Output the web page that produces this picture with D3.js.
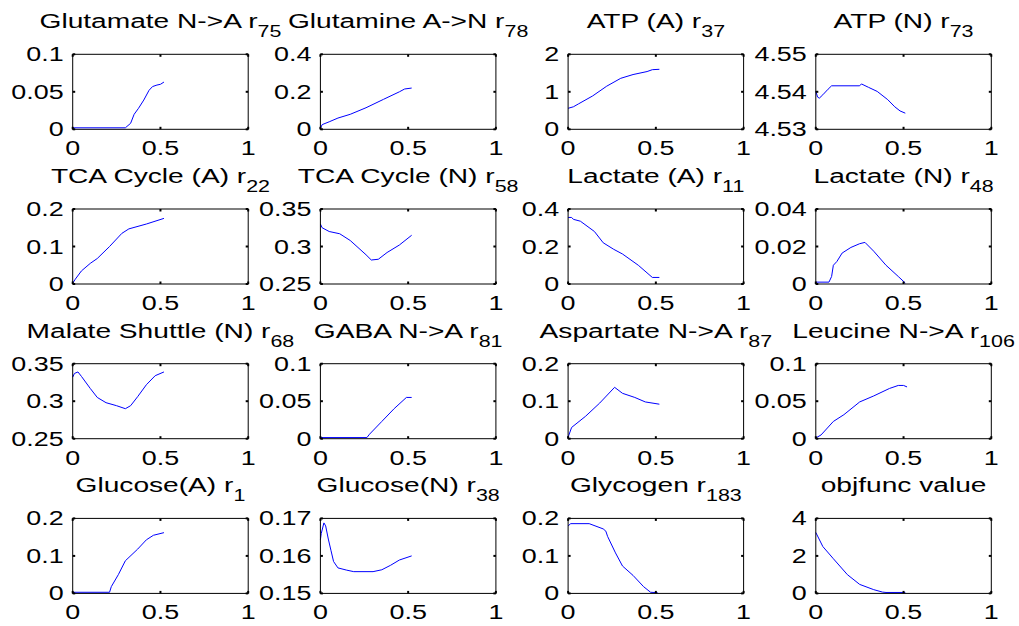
<!DOCTYPE html>
<html>
<head>
<meta charset="utf-8">
<script src="https://cdn.jsdelivr.net/npm/d3@7"></script>
<style>
  body { margin: 0; background: #fff; }
  svg { display: block; }
  text { font-family: "Liberation Sans", Arial, sans-serif; fill: #000; }
</style>
</head>
<body>
<script>
// panel titles (main text + subscript)
var titles = ["Glutamate N->A r", "Glutamine A->N r", "ATP (A) r", "ATP (N) r",
  "TCA Cycle (A) r", "TCA Cycle (N) r", "Lactate (A) r", "Lactate (N) r",
  "Malate Shuttle (N) r", "GABA N->A r", "Aspartate N->A r", "Leucine N->A r",
  "Glucose(A) r", "Glucose(N) r", "Glycogen r", "objfunc value"];
var subs = ["75", "78", "37", "73", "22", "58", "11", "48",
  "68", "81", "87", "106", "1", "38", "183", ""];

var xTicks = [0, 0.5, 1];
var xTickLabels = ["0", "0.5", "1"];

var yDomains = [[0, 0.1], [0, 0.4], [0, 2], [4.53, 4.55],
  [0, 0.2], [0.25, 0.35], [0, 0.4], [0, 0.04],
  [0.25, 0.35], [0, 0.1], [0, 0.2], [0, 0.1],
  [0, 0.2], [0.15, 0.17], [0, 0.2], [0, 4]];
var yTickLabels = [["0", "0.05", "0.1"], ["0", "0.2", "0.4"], ["0", "1", "2"], ["4.53", "4.54", "4.55"],
  ["0", "0.1", "0.2"], ["0.25", "0.3", "0.35"], ["0", "0.2", "0.4"], ["0", "0.02", "0.04"],
  ["0.25", "0.3", "0.35"], ["0", "0.05", "0.1"], ["0", "0.1", "0.2"], ["0", "0.05", "0.1"],
  ["0", "0.1", "0.2"], ["0.15", "0.16", "0.17"], ["0", "0.1", "0.2"], ["0", "2", "4"]];

// curves, [x, y]
var glutamateNA = [[0,0.002],[0.3,0.002],[0.33,0.008],[0.35,0.02],[0.375,0.028],[0.405,0.039],[0.435,0.052],[0.455,0.057],[0.48,0.059],[0.5,0.06],[0.52,0.063]];
var glutamineAN = [[0,0.005],[0.01,0.025],[0.05,0.04],[0.1,0.06],[0.17,0.08],[0.26,0.115],[0.36,0.16],[0.45,0.2],[0.48,0.215],[0.52,0.22]];
var atpA = [[0,0.56],[0.03,0.6],[0.06,0.68],[0.14,0.89],[0.22,1.15],[0.3,1.36],[0.37,1.46],[0.45,1.54],[0.48,1.59],[0.52,1.6]];
var atpN = [[0,4.5402],[0.01,4.5386],[0.02,4.5383],[0.04,4.5392],[0.07,4.5407],[0.09,4.5416],[0.25,4.5416],[0.26,4.5421],[0.3,4.5412],[0.35,4.5401],[0.41,4.5379],[0.45,4.536],[0.48,4.5349],[0.51,4.5343]];
var tcaA = [[0,0.002],[0.015,0.013],[0.05,0.035],[0.1,0.055],[0.14,0.068],[0.21,0.1],[0.28,0.135],[0.32,0.147],[0.42,0.16],[0.52,0.175]];
var tcaN = [[0,0.33],[0.01,0.325],[0.05,0.32],[0.11,0.317],[0.17,0.308],[0.26,0.289],[0.29,0.282],[0.33,0.283],[0.38,0.292],[0.45,0.302],[0.52,0.315]];
var lactateA = [[0,0.355],[0.02,0.355],[0.03,0.345],[0.07,0.335],[0.15,0.28],[0.2,0.22],[0.26,0.185],[0.31,0.16],[0.4,0.1],[0.48,0.035],[0.52,0.035]];
var lactateN = [[0,0.001],[0.075,0.001],[0.09,0.004],[0.1,0.01],[0.12,0.012],[0.15,0.0165],[0.2,0.0195],[0.25,0.0215],[0.28,0.0222],[0.33,0.0175],[0.4,0.01],[0.47,0.004],[0.51,0.0005]];
var malateN = [[0,0.332],[0.01,0.337],[0.03,0.339],[0.05,0.333],[0.1,0.317],[0.14,0.305],[0.19,0.298],[0.25,0.294],[0.3,0.29],[0.33,0.294],[0.37,0.306],[0.42,0.322],[0.47,0.334],[0.52,0.339]];
var gabaNA = [[0,0.0015],[0.265,0.0015],[0.28,0.006],[0.35,0.023],[0.42,0.04],[0.49,0.055],[0.52,0.055]];
var aspartateNA = [[0,0.004],[0.02,0.03],[0.1,0.06],[0.18,0.095],[0.265,0.137],[0.31,0.121],[0.38,0.11],[0.44,0.098],[0.52,0.092]];
var leucineNA = [[0,0.001],[0.03,0.005],[0.1,0.023],[0.16,0.032],[0.25,0.049],[0.33,0.057],[0.42,0.067],[0.47,0.071],[0.5,0.071],[0.52,0.069]];
var glucoseA = [[0,0.003],[0.21,0.003],[0.22,0.018],[0.26,0.05],[0.3,0.087],[0.37,0.118],[0.42,0.143],[0.46,0.155],[0.52,0.162]];
var glucoseN = [[0,0.1643],[0.005,0.166],[0.02,0.1688],[0.03,0.168],[0.045,0.1645],[0.06,0.1615],[0.075,0.1585],[0.1,0.1568],[0.15,0.1562],[0.19,0.1558],[0.3,0.1558],[0.35,0.1563],[0.4,0.1575],[0.45,0.1589],[0.52,0.16]];
var glycogen = [[0,0.18],[0.015,0.186],[0.12,0.186],[0.2,0.172],[0.215,0.166],[0.225,0.152],[0.27,0.108],[0.31,0.073],[0.37,0.048],[0.43,0.018],[0.47,0.003],[0.51,0.002]];
var objfunc = [[0,3.25],[0.04,2.5],[0.1,1.85],[0.18,1.0],[0.25,0.48],[0.33,0.2],[0.38,0.07],[0.4,0.05],[0.51,0.05]];

var series = [glutamateNA, glutamineAN, atpA, atpN, tcaA, tcaN, lactateA, lactateN,
  malateN, gabaNA, aspartateNA, leucineNA, glucoseA, glucoseN, glycogen, objfunc];

var width = 1019, height = 626;
var pw = 175.5, ph = 75;
var sx = 1.38; // the figure is stretched sideways, text too

var svg = d3.select("body").append("svg")
  .attr("width", width)
  .attr("height", height);

svg.append("rect").attr("width", width).attr("height", height).attr("fill", "#fff");

function stretchedText(parent, x, y, s) {
  return parent.append("g")
    .attr("transform", "translate(" + x + "," + y + ") scale(" + (s || sx) + ",1)")
    .append("text");
}

series.forEach(function (pts, i) {
  var col = i % 4, row = Math.floor(i / 4);
  var left = 72.7 + col * 247.7;
  var top = 54.3 + row * 154.7;

  var x = d3.scaleLinear().domain([0, 1]).range([left, left + pw]);
  var y = d3.scaleLinear().domain(yDomains[i]).range([top + ph, top]);
  var yTicks = yTickLabels[i].map(Number);

  var g = svg.append("g");

  // curve
  g.append("path")
    .datum(pts)
    .attr("fill", "none")
    .attr("stroke", "#0000ff")
    .attr("stroke-width", 1)
    .attr("d", d3.line().x(function (d) { return x(d[0]); }).y(function (d) { return y(d[1]); }));

  // box
  g.append("rect")
    .attr("x", left).attr("y", top)
    .attr("width", pw).attr("height", ph)
    .attr("fill", "none")
    .attr("stroke", "#000")
    .attr("stroke-width", 1);

  // inward ticks on all four sides
  var tl = 2.5;
  xTicks.forEach(function (t) {
    g.append("line").attr("x1", x(t)).attr("x2", x(t)).attr("y1", top + ph).attr("y2", top + ph - tl)
      .attr("stroke", "#000").attr("stroke-width", 2);
    g.append("line").attr("x1", x(t)).attr("x2", x(t)).attr("y1", top).attr("y2", top + tl)
      .attr("stroke", "#000").attr("stroke-width", 2);
  });
  yTicks.forEach(function (t) {
    g.append("line").attr("x1", left).attr("x2", left + tl).attr("y1", y(t)).attr("y2", y(t))
      .attr("stroke", "#000").attr("stroke-width", 2);
    g.append("line").attr("x1", left + pw).attr("x2", left + pw - tl).attr("y1", y(t)).attr("y2", y(t))
      .attr("stroke", "#000").attr("stroke-width", 2);
  });

  // tick labels
  xTicks.forEach(function (t, k) {
    stretchedText(g, x(t), top + ph + 26)
      .attr("text-anchor", "middle")
      .style("font-size", "19.5px")
      .text(xTickLabels[k]);
  });
  yTicks.forEach(function (t, k) {
    stretchedText(g, left - 9, y(t) + 7)
      .attr("text-anchor", "end")
      .style("font-size", "19.5px")
      .text(yTickLabels[i][k]);
  });

  // title with subscript
  var tt = stretchedText(g, left + pw / 2, top - 26, 1.34)
    .attr("text-anchor", "middle")
    .style("font-size", "21px");
  tt.append("tspan").text(titles[i]);
  if (subs[i]) {
    tt.append("tspan").attr("dy", 9).style("font-size", "16px").text(subs[i]);
  }
});
</script>
</body>
</html>
